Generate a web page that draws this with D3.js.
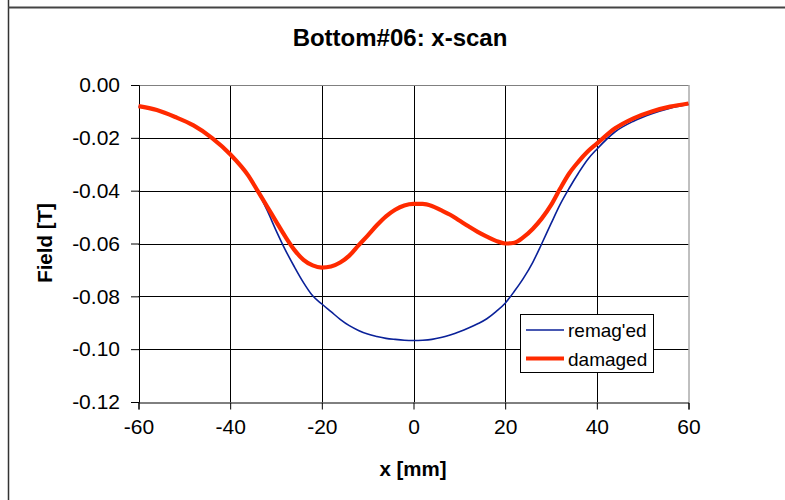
<!DOCTYPE html>
<html><head><meta charset="utf-8">
<script src="https://cdn.jsdelivr.net/npm/d3@7"></script>
<style>
html,body{margin:0;padding:0;background:#fff;}
svg{display:block;font-family:Arial,"Liberation Sans",sans-serif;}
</style></head>
<body><svg id="c" width="785" height="500"></svg>
<script>
const xPositions = [-60,-56,-52,-48,-44,-40,-36,-34,-32,-30,-28,-26,-24,-22,-20,-18,-16,-14,-12,-10,-8,-6,-4,-2,0,2,4,6,8,10,12,14,16,18,20,22,24,26,28,30,32,34,36,38,40,44,48,52,56,60];
const remagged = [-0.0081,-0.0096,-0.0122,-0.0154,-0.0201,-0.0263,-0.0346,-0.0404,-0.0472,-0.0550,-0.0623,-0.0688,-0.0748,-0.0798,-0.0829,-0.0858,-0.0887,-0.0911,-0.0929,-0.0943,-0.0952,-0.0959,-0.0963,-0.0966,-0.0967,-0.0966,-0.0963,-0.0956,-0.0946,-0.0934,-0.0920,-0.0904,-0.0885,-0.0858,-0.0826,-0.0781,-0.0731,-0.0672,-0.0600,-0.0525,-0.0452,-0.0390,-0.0333,-0.0282,-0.0243,-0.0177,-0.0137,-0.0109,-0.0088,-0.0073];
const damaged = [-0.0080,-0.0095,-0.0121,-0.0153,-0.0200,-0.0262,-0.0344,-0.0401,-0.0458,-0.0516,-0.0573,-0.0624,-0.0662,-0.0683,-0.0691,-0.0687,-0.0672,-0.0646,-0.0607,-0.0570,-0.0531,-0.0497,-0.0472,-0.0456,-0.0450,-0.0450,-0.0458,-0.0474,-0.0491,-0.0513,-0.0535,-0.0556,-0.0574,-0.0590,-0.0600,-0.0597,-0.0576,-0.0545,-0.0505,-0.0455,-0.0392,-0.0334,-0.0290,-0.0252,-0.0222,-0.0164,-0.0126,-0.0100,-0.0082,-0.0070];
const xTicks = [-60,-40,-20,0,20,40,60];
const yTicks = [0,-0.02,-0.04,-0.06,-0.08,-0.10,-0.12];
const seriesNames = ["remag'ed","damaged"];
const titleText = "Bottom#06: x-scan";
const xLabel = "x [mm]";
const yLabel = "Field [T]";

const svg = d3.select("#c");
const L = 138.5, R = 688.5, T = 85, B = 402;
const x = d3.scaleLinear().domain([-60,60]).range([L,R]);
const y = d3.scaleLinear().domain([-0.12,0]).range([B,T]);

// outer frame lines
svg.append("line").attr("x1",8.5).attr("x2",8.5).attr("y1",0).attr("y2",500).attr("stroke","#333").attr("stroke-width",1.5);
svg.append("line").attr("x1",8).attr("x2",785).attr("y1",7.5).attr("y2",7.5).attr("stroke","#444").attr("stroke-width",2);

// grid
const g = svg.append("g");
g.selectAll(".hg").data(yTicks.slice(1,-1)).join("line")
 .attr("x1",L).attr("x2",R).attr("y1",d=>Math.round(y(d))+0.5).attr("y2",d=>Math.round(y(d))+0.5)
 .attr("stroke","#000").attr("stroke-width",1);
g.selectAll(".vg").data(xTicks.slice(1,-1)).join("line")
 .attr("y1",T).attr("y2",B).attr("x1",d=>Math.round(x(d))+0.5).attr("x2",d=>Math.round(x(d))+0.5)
 .attr("stroke","#000").attr("stroke-width",1);
// plot border top/right
g.append("line").attr("x1",L).attr("x2",R).attr("y1",T+0.5).attr("y2",T+0.5).attr("stroke","#808080");
g.append("line").attr("x1",R+0.5).attr("x2",R+0.5).attr("y1",T).attr("y2",B).attr("stroke","#808080");

// axes
const yAxis = d3.axisLeft(y).tickValues(yTicks).tickSize(8).tickPadding(11).tickFormat(d3.format(".2f"));
const ya = svg.append("g").attr("transform",`translate(${L+0.5},0)`).call(yAxis);
const xAxis = d3.axisBottom(x).tickValues(xTicks).tickSize(7).tickPadding(10).tickFormat(d3.format("d"));
const xa = svg.append("g").attr("transform",`translate(0,${B+0.5})`).call(xAxis);
[ya,xa].forEach(a=>{
  a.select(".domain").attr("stroke","#000");
  a.selectAll(".tick line").attr("stroke","#000");
  a.selectAll("text").attr("font-size",21).attr("fill","#000").attr("font-family","Arial, 'Liberation Sans', sans-serif");
});
ya.selectAll(".tick text").text(d=>d===0?"0.00":d3.format(".2f")(d).replace("−","-"));
xa.selectAll(".tick text").text(d=>String(d));

// lines
const line = d3.line().x((d,i)=>x(xPositions[i])).y(d=>y(d)).curve(d3.curveMonotoneX);
svg.append("path").attr("d",line(remagged)).attr("fill","none").attr("stroke","#0A2199").attr("stroke-width",1.6);
svg.append("path").attr("d",line(damaged)).attr("fill","none").attr("stroke","#FF2A00").attr("stroke-width",4.2);

// title & labels
svg.append("text").attr("x",400).attr("y",46).attr("text-anchor","middle").attr("font-size",24).attr("font-weight","bold").text(titleText);
svg.append("text").attr("x",413).attr("y",476).attr("text-anchor","middle").attr("font-size",20.5).attr("font-weight","bold").text(xLabel);
svg.append("text").attr("transform","translate(52,243) rotate(-90)").attr("text-anchor","middle").attr("font-size",20.5).attr("font-weight","bold").text(yLabel);

// legend
const lg = svg.append("g");
lg.append("rect").attr("x",520.5).attr("y",314.5).attr("width",133).attr("height",58).attr("fill","#fff").attr("stroke","#000").attr("stroke-width",1);
const colors = ["#0A2199","#FF2A00"], widths=[1.6,4.2];
seriesNames.forEach((n,i)=>{
  const yy = 330 + i*28.5;
  lg.append("line").attr("x1",526).attr("x2",564).attr("y1",yy).attr("y2",yy).attr("stroke",colors[i]).attr("stroke-width",widths[i]);
  lg.append("text").attr("x",568).attr("y",yy+7).attr("font-size",19).text(n);
});
</script></body></html>
